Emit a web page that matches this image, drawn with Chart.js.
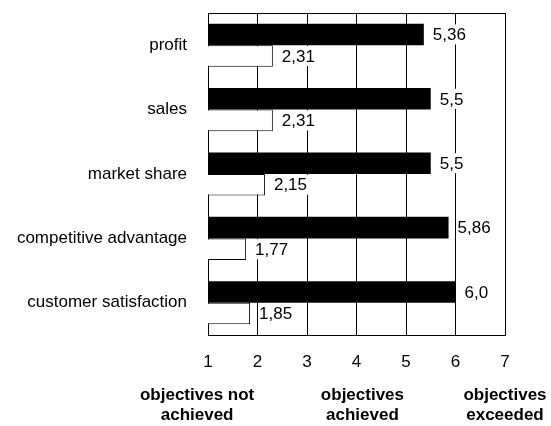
<!DOCTYPE html>
<html>
<head>
<meta charset="utf-8">
<script src="https://cdn.jsdelivr.net/npm/chart.js@4/dist/chart.umd.min.js"></script>
<style>
  html, body { margin: 0; padding: 0; background: #fff; }
  #wrap { width: 551px; height: 426px; }
</style>
</head>
<body>
<div id="wrap"><canvas id="goalChart"></canvas></div>
<script>
const categories = ['profit', 'sales', 'market share', 'competitive advantage', 'customer satisfaction'];
const blackValues = [5.36, 5.5, 5.5, 5.86, 6.0];
const whiteValues = [2.31, 2.31, 2.15, 1.77, 1.85];
const xTicks = [1, 2, 3, 4, 5, 6, 7];
const scaleNotes = [
  ['objectives not', 'achieved'],
  ['objectives', 'achieved'],
  ['objectives', 'exceeded'],
];

const FONT = '"Liberation Sans", Arial, sans-serif';

function fmt(v) {
  const s = Number.isInteger(v) ? v.toFixed(1) : String(v);
  return s.replace('.', ',');
}

// value labels with white box behind them
const valueLabels = {
  id: 'valueLabels',
  afterDatasetsDraw(chart) {
    const { ctx } = chart;
    ctx.save();
    ctx.font = `17px ${FONT}`;
    ctx.textBaseline = 'middle';
    chart.data.datasets.forEach((ds, i) => {
      chart.getDatasetMeta(i).data.forEach((bar, j) => {
        const text = fmt(ds.data[j]);
        const w = ctx.measureText(text).width;
        const x = bar.x + 9;
        ctx.fillStyle = '#fff';
        ctx.fillRect(x - 1, bar.y - 10, w + 2, 20);
        ctx.fillStyle = '#000';
        ctx.fillText(text, x, bar.y + 1);
      });
    });
    ctx.restore();
  },
};

// top frame line + the bold notes under the axis
const frameAndNotes = {
  id: 'frameAndNotes',
  afterDraw(chart) {
    const { ctx, chartArea } = chart;
    const xs = chart.scales.x;
    ctx.save();
    ctx.strokeStyle = '#000';
    ctx.lineWidth = 1;
    ctx.beginPath();
    ctx.moveTo(chartArea.left, chartArea.top + 0.5);
    ctx.lineTo(chartArea.right, chartArea.top + 0.5);
    ctx.stroke();

    const notePos = [0.78, 4.12, 7];
    ctx.font = `bold 17px ${FONT}`;
    ctx.fillStyle = '#000';
    ctx.textAlign = 'center';
    ctx.textBaseline = 'middle';
    scaleNotes.forEach((lines, i) => {
      const x = xs.getPixelForValue(notePos[i]);
      lines.forEach((line, k) => {
        ctx.fillText(line, x, chartArea.bottom + 60 + k * 20);
      });
    });
    ctx.restore();
  },
};

new Chart(document.getElementById('goalChart'), {
  type: 'bar',
  data: {
    labels: categories,
    datasets: [
      {
        data: blackValues,
        backgroundColor: '#000',
        borderWidth: 0,
        barPercentage: 1,
        categoryPercentage: 0.67,
      },
      {
        data: whiteValues,
        backgroundColor: '#fff',
        borderColor: '#000',
        borderWidth: 1,
        borderSkipped: 'start',
        barPercentage: 1,
        categoryPercentage: 0.67,
      },
    ],
  },
  options: {
    indexAxis: 'y',
    responsive: true,
    maintainAspectRatio: false,
    animation: false,
    layout: { padding: { top: 13, right: 46, bottom: 0, left: 0 } },
    plugins: {
      legend: { display: false },
      tooltip: { enabled: false },
    },
    scales: {
      x: {
        min: 1,
        max: 7,
        afterFit: (scale) => { scale.height = 91; },
        afterBuildTicks: (scale) => { scale.ticks = xTicks.map((v) => ({ value: v })); },
        grid: { color: '#000', lineWidth: 1, drawTicks: false },
        border: { color: '#000', width: 1 },
        ticks: {
          color: '#000',
          padding: 17,
          font: { family: FONT, size: 17 },
        },
      },
      y: {
        afterFit: (scale) => {
          scale.width = 208;
          scale.paddingTop = 0;
          scale.paddingBottom = 0;
        },
        grid: { display: false, drawTicks: false },
        border: { color: '#000', width: 1 },
        ticks: {
          color: '#000',
          padding: 21,
          font: { family: FONT, size: 17 },
        },
      },
    },
  },
  plugins: [valueLabels, frameAndNotes],
});
</script>
</body>
</html>
